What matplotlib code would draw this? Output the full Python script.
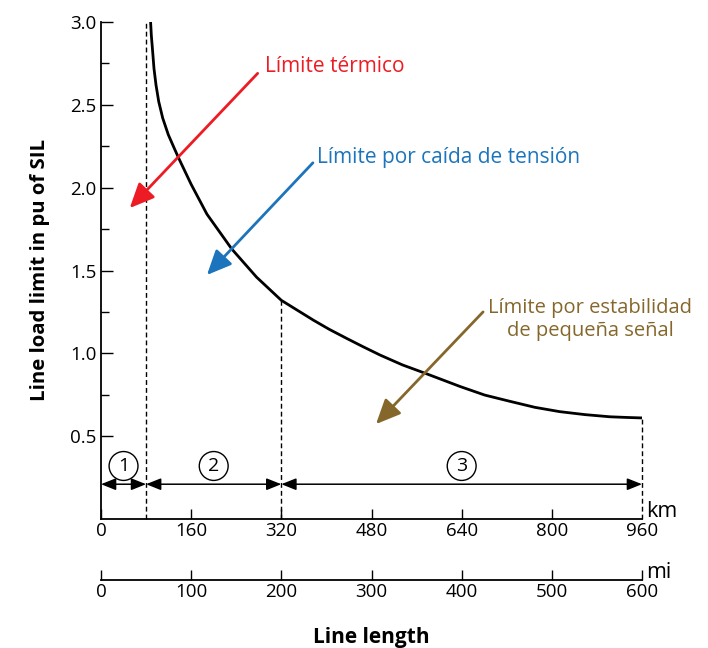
import numpy as np
import matplotlib
matplotlib.use("Agg")
import matplotlib.pyplot as plt

plt.rcParams['font.family'] = ['Open Sans', 'DejaVu Sans']

# ---- data ----
length_km = [88, 89.3, 91.7, 94, 97.6, 102.4, 109.5, 119.4, 131, 139, 160, 188,
             232, 276, 320, 377, 405, 436, 465, 495, 535, 575, 637, 681, 726,
             770, 814, 859, 903, 933, 960]
load_pu = [3.00, 2.92, 2.82, 2.72, 2.62, 2.52, 2.42, 2.32, 2.23, 2.17, 2.02,
           1.84, 1.63, 1.46, 1.32, 1.20, 1.145, 1.09, 1.04, 0.99, 0.93, 0.88,
           0.80, 0.748, 0.71, 0.674, 0.648, 0.630, 0.617, 0.613, 0.61]
region_bounds_km = [0, 80, 320, 960]
region_labels = ['1', '2', '3']
km_ticks = [0, 160, 320, 480, 640, 800, 960]
mi_ticks = [0, 100, 200, 300, 400, 500, 600]
y_major = [0.5, 1.0, 1.5, 2.0, 2.5, 3.0]
y_minor = [0.75, 1.25, 1.75, 2.25, 2.75]
KM_TO_MI = 0.625

RED = '#ED1C24'
BLUE = '#1C75BC'
BROWN = '#86672B'

fig = plt.figure(figsize=(7.08, 6.48), dpi=100)
ax = fig.add_axes([101/708, 1-519/648, 541/708, 497/648])

ax.plot(length_km, load_pu, color='black', lw=2.0, solid_capstyle='butt',
        solid_joinstyle='round', zorder=3)
ax.set_xlim(0, 960)
ax.set_ylim(0, 3.0)

# dashed boundaries
tops = [3.0, float(np.interp(region_bounds_km[2], length_km, load_pu)),
        float(np.interp(region_bounds_km[3], length_km, load_pu))]
for xb, yt in zip(region_bounds_km[1:], tops):
    ax.plot([xb, xb], [0, yt], color='black', lw=1.0, ls=(0, (3.5, 2.2)),
            clip_on=False, zorder=2)

# region arrows & circled numbers
arrow_y = 0.21
circ_y = 0.32
for i, lab in enumerate(region_labels):
    a, b = region_bounds_km[i], region_bounds_km[i+1]
    ax.annotate('', xy=(b, arrow_y), xytext=(a, arrow_y),
                arrowprops=dict(arrowstyle='<|-|>,head_length=0.6,head_width=0.24',
                                color='black', lw=1.1, shrinkA=0, shrinkB=0,
                                mutation_scale=15),
                annotation_clip=False)
    ax.text((a + b) / 2, circ_y, lab, ha='center', va='center', fontsize=14,
            bbox=dict(boxstyle='circle,pad=0.28', fc='white', ec='black', lw=1.0))

# colored annotations
arrow_kw = dict(arrowstyle='-|>,head_length=1.0,head_width=0.45', lw=2.0,
                shrinkA=0, shrinkB=0, mutation_scale=15)
ax.annotate('', xy=(51, 1.877), xytext=(278, 2.69),
            arrowprops=dict(color=RED, **arrow_kw), annotation_clip=False)
ax.text(291, 2.73, 'Límite térmico', color=RED, fontsize=15, ha='left', va='center')

ax.annotate('', xy=(188, 1.473), xytext=(376, 2.15),
            arrowprops=dict(color=BLUE, **arrow_kw), annotation_clip=False)
ax.text(383, 2.185, 'Límite por caída de tensión', color=BLUE, fontsize=15,
        ha='left', va='center')

ax.annotate('', xy=(488, 0.573), xytext=(678, 1.25),
            arrowprops=dict(color=BROWN, **arrow_kw), annotation_clip=False)
ax.text(868, 1.207, 'Límite por estabilidad\nde pequeña señal', color=BROWN,
        fontsize=14.5, ha='center', va='center', multialignment='center',
        linespacing=1.2, clip_on=False)

# spines and ticks
for s in ['top', 'right']:
    ax.spines[s].set_visible(False)
for s in ['left', 'bottom']:
    ax.spines[s].set_linewidth(1.3)

ax.set_yticks(y_major)
ax.set_yticklabels([f'{v:.1f}' for v in y_major])
ax.set_yticks(y_minor, minor=True)
ax.tick_params(axis='y', which='major', direction='in', length=8.6, width=1.0,
               pad=3, labelsize=13.5)
ax.tick_params(axis='y', which='minor', direction='in', length=5.8, width=1.0)

ax.set_xticks(km_ticks)
ax.set_xticklabels([str(v) for v in km_ticks])
ax.tick_params(axis='x', which='major', direction='in', length=7.2, width=1.0,
               pad=2, labelsize=13.5)
ax.xaxis.get_major_ticks()[-1].tick1line.set_visible(False)

sec = ax.secondary_xaxis(-61/497, functions=(lambda x: x * KM_TO_MI,
                                             lambda x: x / KM_TO_MI))
sec.set_xticks(mi_ticks)
sec.set_xticklabels([str(v) for v in mi_ticks])
sec.tick_params(direction='in', length=7.2, width=1.0, pad=2, labelsize=13.5)
sec.spines['bottom'].set_linewidth(1.3)

ax.text(1.008, 0.004, 'km', transform=ax.transAxes, ha='left', va='baseline',
        fontsize=15.5)
ax.text(1.008, -61/497 + 0.004, 'mi', transform=ax.transAxes, ha='left',
        va='baseline', fontsize=15.5)

fig.text(371.5/708, 1-637/648, 'Line length', ha='center', va='center',
         fontsize=15, fontweight='bold')
fig.text(40/708, 1-270/648, 'Line load limit in pu of SIL', ha='center',
         va='center', rotation=90, fontsize=14.7, fontweight='bold')

fig.savefig('out.png', dpi=100)
